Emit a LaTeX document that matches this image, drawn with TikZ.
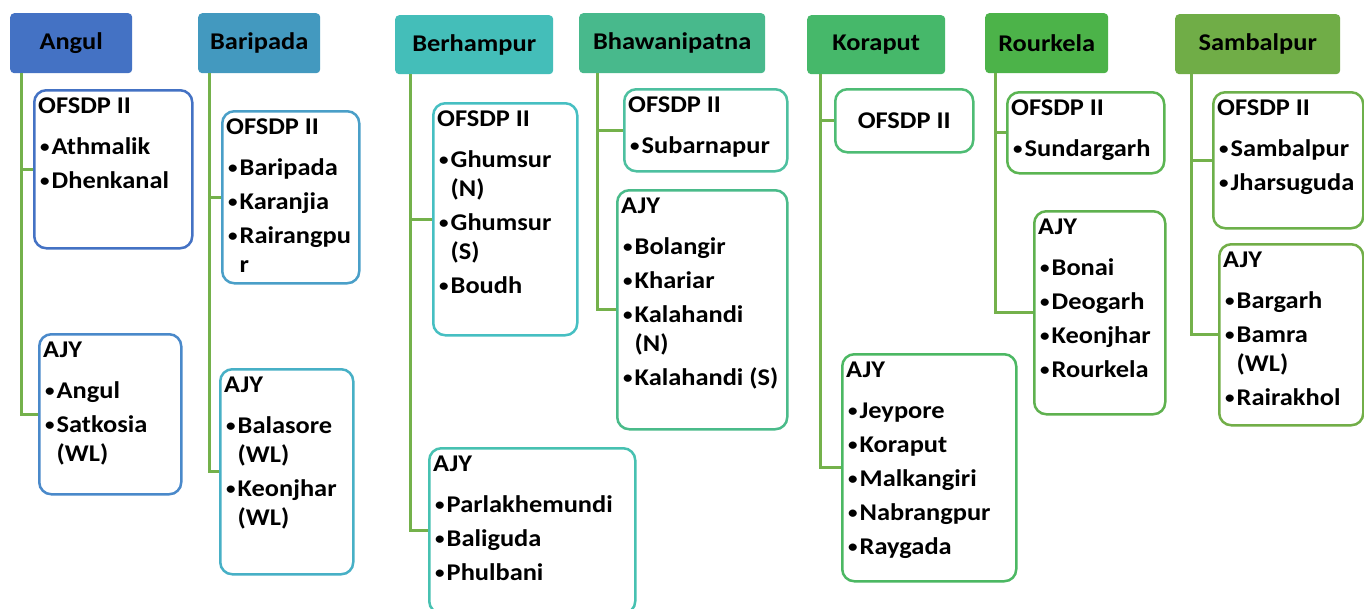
\documentclass[tikz,border=0pt]{standalone}
\usepackage{fontspec}
\setmainfont{Carlito}[FakeStretch=1.1]
\definecolor{hAcol}{HTML}{4472C4}
\definecolor{hBcol}{HTML}{4399BF}
\definecolor{hCcol}{HTML}{44BEB9}
\definecolor{hDcol}{HTML}{48B98C}
\definecolor{hEcol}{HTML}{46B86A}
\definecolor{hFcol}{HTML}{4CB349}
\definecolor{hGcol}{HTML}{70AD47}
\definecolor{aOcol}{HTML}{4472C4}
\definecolor{aAcol}{HTML}{4A89CA}
\definecolor{bOcol}{HTML}{4A9FC8}
\definecolor{bAcol}{HTML}{47B0C6}
\definecolor{cOcol}{HTML}{46BFC2}
\definecolor{cAcol}{HTML}{47C1B1}
\definecolor{dOcol}{HTML}{4DC0A0}
\definecolor{dAcol}{HTML}{4ABB8A}
\definecolor{eOcol}{HTML}{4EBC74}
\definecolor{eAcol}{HTML}{4CB863}
\definecolor{fOcol}{HTML}{5BB552}
\definecolor{fAcol}{HTML}{5FB14F}
\definecolor{gOcol}{HTML}{6DB04B}
\definecolor{gAcol}{HTML}{72AE48}
\definecolor{linecol}{HTML}{74B14B}
\newcommand\bu{\makebox[13.5pt][c]{\raisebox{2pt}{\scalebox{0.72}{•}}}}
\newcommand\ind{\hspace*{13.5pt}}
\begin{document}
\begin{tikzpicture}[x=1pt,y=-1pt,
  font=\fontsize{24}{29}\selectfont\bfseries,
  hdr/.style={rounded corners=4pt, anchor=north west, inner sep=0pt, text=black},
  sub/.style={draw, line width=2.5pt, rounded corners=12pt, anchor=north west, fill=white, inner sep=0pt},
  txt/.style={anchor=north west, align=left, inner sep=0pt},
  conn/.style={draw=linecol, line width=3pt}]
\useasboundingbox[fill=white] (0,0) rectangle (1364,608);

% Angul
\node[hdr, fill=hAcol, minimum width=122pt, minimum height=60pt] (hA) at (10,13) {Angul};
\coordinate (tA) at ([xshift=11pt]hA.south west);
\node[sub, draw=aOcol, minimum width=158pt, minimum height=158pt] (aO) at (33,89) {};
\node[sub, draw=aAcol, minimum width=142pt, minimum height=160pt] (aA) at (38,333) {};
\draw[conn] (tA) |- (aO.west);
\draw[conn] (tA) |- (aA.west);
\node[txt] (aOt) at ([shift={(5,8.5)}]aO.north west) {OFSDP II\\[12pt]\bu Athmalik\\[5pt]\bu Dhenkanal};
\node[txt] (aAt) at ([shift={(5,8.5)}]aA.north west) {AJY\\[12pt]\bu Angul\\[5pt]\bu Satkosia\\\ind (WL)};

% Baripada
\node[hdr, fill=hBcol, minimum width=122pt, minimum height=60pt] (hB) at (198,13) {Baripada};
\coordinate (tB) at ([xshift=11pt]hB.south west);
\node[sub, draw=bOcol, minimum width=137pt, minimum height=172pt] (bO) at (221,110) {};
\node[sub, draw=bAcol, minimum width=133pt, minimum height=205pt] (bA) at (219,368) {};
\draw[conn] (tB) |- (bO.west);
\draw[conn] (tB) |- (bA.west);
\node[txt] (bOt) at ([shift={(5,8.5)}]bO.north west) {OFSDP II\\[12pt]\bu Baripada\\[5pt]\bu Karanjia\\[5pt]\bu Rairangpu\\\ind r};
\node[txt] (bAt) at ([shift={(5,8.5)}]bA.north west) {AJY\\[12pt]\bu Balasore\\\ind (WL)\\[5pt]\bu Keonjhar\\\ind (WL)};

% Berhampur
\node[hdr, fill=hCcol, minimum width=158pt, minimum height=59pt] (hC) at (395,15) {Berhampur};
\coordinate (tC) at ([xshift=15pt]hC.south west);
\node[sub, draw=cOcol, minimum width=144pt, minimum height=232pt] (cO) at (432,102) {};
\node[sub, draw=cAcol, minimum width=206pt, minimum height=165pt] (cA) at (428,447) {};
\draw[conn] (tC) |- (cO.west);
\draw[conn] (tC) |- (cA.west);
\node[txt] (cOt) at ([shift={(5,8.5)}]cO.north west) {OFSDP II\\[12pt]\bu Ghumsur\\\ind (N)\\[5pt]\bu Ghumsur\\\ind (S)\\[5pt]\bu Boudh};
\node[txt] (cAt) at ([shift={(5,8.5)}]cA.north west) {AJY\\[12pt]\bu Parlakhemundi\\[5pt]\bu Baliguda\\[5pt]\bu Phulbani};

% Bhawanipatna
\node[hdr, fill=hDcol, minimum width=186pt, minimum height=60pt] (hD) at (579,13) {Bhawanipatna};
\coordinate (tD) at ([xshift=18pt]hD.south west);
\node[sub, draw=dOcol, minimum width=163pt, minimum height=82pt] (dO) at (623,88) {};
\node[sub, draw=dAcol, minimum width=170pt, minimum height=239pt] (dA) at (616,189) {};
\draw[conn] (tD) |- (dO.west);
\draw[conn] (tD) |- (dA.west);
\node[txt] (dOt) at ([shift={(5,8.5)}]dO.north west) {OFSDP II\\[12pt]\bu Subarnapur};
\node[txt] (dAt) at ([shift={(5,8.5)}]dA.north west) {AJY\\[12pt]\bu Bolangir\\[5pt]\bu Khariar\\[5pt]\bu Kalahandi\\\ind (N)\\[5pt]\bu Kalahandi (S)};

% Koraput
\node[hdr, fill=hEcol, minimum width=138pt, minimum height=59pt] (hE) at (807,15) {Koraput};
\coordinate (tE) at ([xshift=13pt]hE.south west);
\node[sub, draw=eOcol, minimum width=138pt, minimum height=63pt] (eO) at (834,88) {OFSDP II};
\node[sub, draw=eAcol, minimum width=174pt, minimum height=227pt] (eA) at (841,353) {};
\draw[conn] (tE) |- (eO.west);
\draw[conn] (tE) |- (eA.west);
\node[txt] (eAt) at ([shift={(5,8.5)}]eA.north west) {AJY\\[12pt]\bu Jeypore\\[5pt]\bu Koraput\\[5pt]\bu Malkangiri\\[5pt]\bu Nabrangpur\\[5pt]\bu Raygada};

% Rourkela
\node[hdr, fill=hFcol, minimum width=123pt, minimum height=60pt] (hF) at (985,13) {Rourkela};
\coordinate (tF) at ([xshift=10pt]hF.south west);
\node[sub, draw=fOcol, minimum width=157pt, minimum height=81pt] (fO) at (1006,91) {};
\node[sub, draw=fAcol, minimum width=131pt, minimum height=203pt] (fA) at (1033,210) {};
\draw[conn] (tF) |- (fO.west);
\draw[conn] (tF) |- (fA.west);
\node[txt] (fOt) at ([shift={(5,8.5)}]fO.north west) {OFSDP II\\[12pt]\bu Sundargarh};
\node[txt] (fAt) at ([shift={(5,8.5)}]fA.north west) {AJY\\[12pt]\bu Bonai\\[5pt]\bu Deogarh\\[5pt]\bu Keonjhar\\[5pt]\bu Rourkela};

% Sambalpur
\node[hdr, fill=hGcol, minimum width=165pt, minimum height=60pt] (hG) at (1175,14) {Sambalpur};
\coordinate (tG) at ([xshift=16pt]hG.south west);
\node[sub, draw=gOcol, minimum width=150pt, minimum height=136pt] (gO) at (1212,91) {};
\node[sub, draw=gAcol, minimum width=144pt, minimum height=181pt] (gA) at (1218,243) {};
\draw[conn] (tG) |- (gO.west);
\draw[conn] (tG) |- (gA.west);
\node[txt] (gOt) at ([shift={(5,8.5)}]gO.north west) {OFSDP II\\[12pt]\bu Sambalpur\\[5pt]\bu Jharsuguda};
\node[txt] (gAt) at ([shift={(5,8.5)}]gA.north west) {AJY\\[12pt]\bu Bargarh\\[5pt]\bu Bamra\\\ind (WL)\\[5pt]\bu Rairakhol};
\end{tikzpicture}
\end{document}
